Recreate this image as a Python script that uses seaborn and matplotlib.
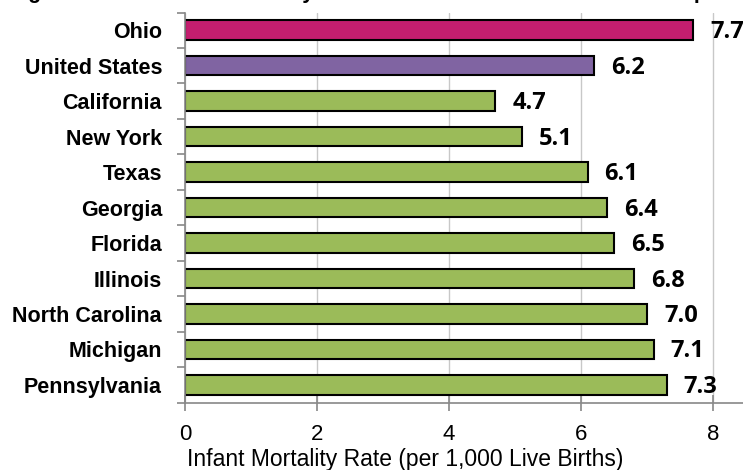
import matplotlib
matplotlib.use('Agg')
import matplotlib.pyplot as plt
import seaborn as sns
import pandas as pd
import numpy as np

# ---------------------------------------------------------------------------
# Data
# ---------------------------------------------------------------------------

states = ['Ohio', 'United States', 'California', 'New York', 'Texas', 'Georgia',
          'Florida', 'Illinois', 'North Carolina', 'Michigan', 'Pennsylvania']
rates = [7.7, 6.2, 4.7, 5.1, 6.1, 6.4, 6.5, 6.8, 7.0, 7.1, 7.3]
bar_colors = ['#C41E6F', '#8064A2'] + ['#9BBB59'] * 9
x_ticks = [0, 2, 4, 6, 8]
x_label = 'Infant Mortality Rate (per 1,000 Live Births)'
title = 'Figure 3. Ohio Infant Mortality Rate Relative to US and Ten Most Populous States'

df = pd.DataFrame({'state': states, 'rate': rates})

# ---------------------------------------------------------------------------
# Plot
# ---------------------------------------------------------------------------

sns.set_style('white')
plt.rcParams['font.family'] = ['Liberation Sans', 'DejaVu Sans']
plt.rcParams['text.color'] = 'black'
plt.rcParams['xtick.labelcolor'] = 'black'
plt.rcParams['ytick.labelcolor'] = 'black'
plt.rcParams['axes.labelcolor'] = 'black'

fig = plt.figure(figsize=(7.43, 4.70), dpi=100)
ax = fig.add_axes([185 / 743, 1 - 402.7 / 470, 8.6 * 66 / 743, 390.2 / 470])

sns.barplot(data=df, x='rate', y='state', hue='state', palette=bar_colors,
            legend=False, width=0.55, edgecolor='black', linewidth=1.5,
            saturation=1, ax=ax)

ax.set_xlim(0, 8.6)
ax.set_ylim(len(states) - 0.5, -0.5)
ax.set_xticks(x_ticks)
ax.set_xticklabels([str(t) for t in x_ticks], fontsize=16)
ax.xaxis.grid(True, color='#C8C8C8', linewidth=1)
ax.set_axisbelow(True)

# category ticks sit between bars, Excel style
ax.set_yticks(range(len(states)))
ax.set_yticklabels(states, fontsize=15.5, fontweight='bold')
ax.set_yticks(np.arange(-0.5, len(states), 1), minor=True)
ax.tick_params(axis='y', which='major', length=0, pad=16.5)
ax.tick_params(axis='y', which='minor', length=6, width=1.2, color='#888888',
               direction='out', left=True)
ax.tick_params(axis='x', length=12, width=1.2, color='#888888',
               direction='inout', bottom=True, pad=9)

for side in ['top', 'right']:
    ax.spines[side].set_visible(False)
for side in ['left', 'bottom']:
    ax.spines[side].set_color('#888888')
    ax.spines[side].set_linewidth(1.2)

ax.set_xlabel(x_label, fontsize=16.5, va='top')
ax.xaxis.set_label_coords(0.388, -0.117)
ax.set_ylabel('')

for i, v in enumerate(rates):
    ax.annotate(f'{v:.1f}', xy=(v, i), xytext=(17, -2), textcoords='offset pixels',
                ha='left', va='center', fontsize=17, fontweight='bold',
                family=['Open Sans', 'DejaVu Sans'])

fig.text(9 / 743, 1 + 1.5 / 470, title, ha='left', va='baseline', fontsize=15.5,
         fontweight='bold')

fig.savefig('out.png', dpi=100)
